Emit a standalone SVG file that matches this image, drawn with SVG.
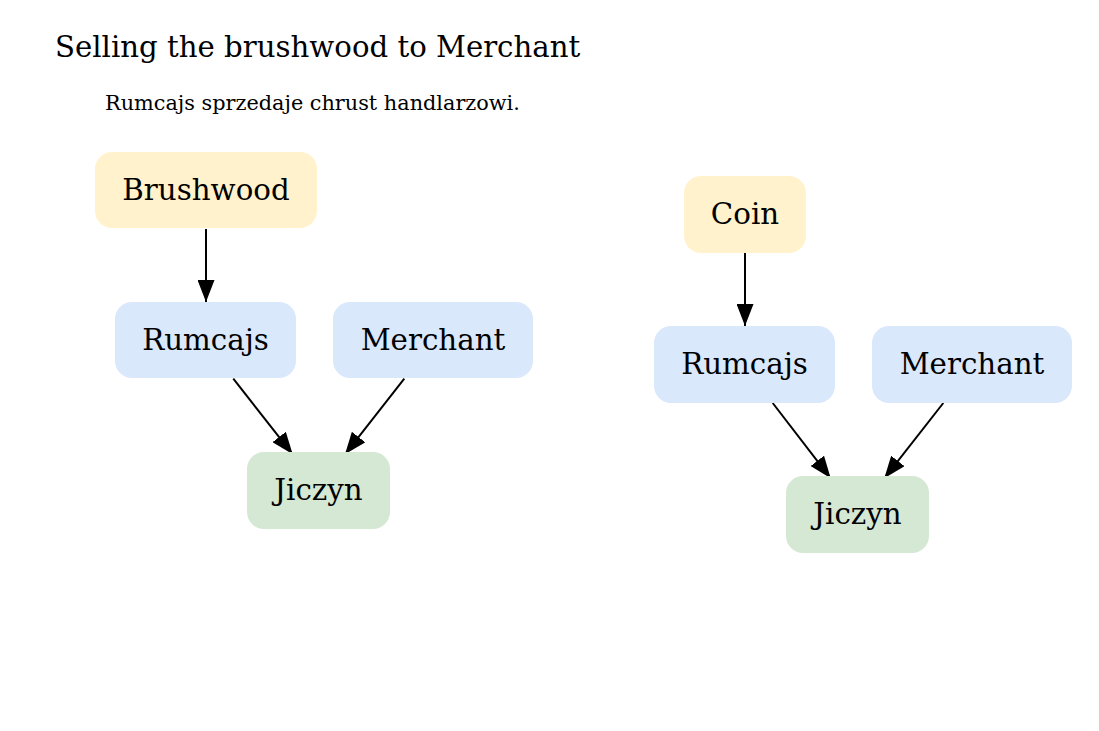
<svg xmlns="http://www.w3.org/2000/svg" width="1099" height="731" viewBox="0 0 1099 731">
<defs>
<style>
text{font-family:"DejaVu Serif","Liberation Serif",serif;fill:#000}
.t{font-size:29.2px}
.sub{font-size:20.8px}
.n{font-size:29.3px;text-anchor:middle}
.y{fill:#fff2cc}
.b{fill:#dae8fc}
.g{fill:#d5e8d4}
.e{stroke:#000;stroke-width:2;fill:none;marker-end:url(#ah)}
</style>
<marker id="ah" viewBox="0 0 22 17" refX="22" refY="8.5" markerWidth="22" markerHeight="17" markerUnits="userSpaceOnUse" orient="auto">
<path d="M0,0 L22,8.5 L0,17 Z" fill="#000"/>
</marker>
</defs>
<rect width="1099" height="731" fill="#fff"/>
<text class="t" x="55" y="57">Selling the brushwood to Merchant</text>
<text class="sub" x="105" y="110">Rumcajs sprzedaje chrust handlarzowi.</text>
<g id="connectors">
<line class="e" x1="206" y1="229" x2="206" y2="302"/>
<line class="e" x1="233.3" y1="378.7" x2="292.7" y2="454.3"/>
<line class="e" x1="404.3" y1="378.7" x2="345" y2="454.3"/>
<line class="e" x1="745" y1="253" x2="745" y2="326"/>
<line class="e" x1="772.7" y1="403" x2="830.7" y2="478.3"/>
<line class="e" x1="943.3" y1="403" x2="884.3" y2="478.3"/>
</g>
<g id="brushwood"><rect class="y" x="95" y="152" width="222" height="76" rx="17"/><text class="n" x="206" y="200">Brushwood</text></g>
<g id="rumcajs1"><rect class="b" x="115" y="302" width="181" height="76" rx="17"/><text class="n" x="205.5" y="350">Rumcajs</text></g>
<g id="merchant1"><rect class="b" x="333" y="302" width="200" height="76" rx="17"/><text class="n" x="433" y="350">Merchant</text></g>
<g id="jiczyn1"><rect class="g" x="247" y="452" width="143" height="77" rx="17"/><text class="n" x="318.5" y="500">Jiczyn</text></g>
<g id="coin"><rect class="y" x="684" y="176" width="122" height="77" rx="17"/><text class="n" x="745" y="224">Coin</text></g>
<g id="rumcajs2"><rect class="b" x="654" y="326" width="181" height="77" rx="17"/><text class="n" x="744.5" y="374">Rumcajs</text></g>
<g id="merchant2"><rect class="b" x="872" y="326" width="200" height="77" rx="17"/><text class="n" x="972" y="374">Merchant</text></g>
<g id="jiczyn2"><rect class="g" x="786" y="476" width="143" height="77" rx="17"/><text class="n" x="857.5" y="524">Jiczyn</text></g>
</svg>
